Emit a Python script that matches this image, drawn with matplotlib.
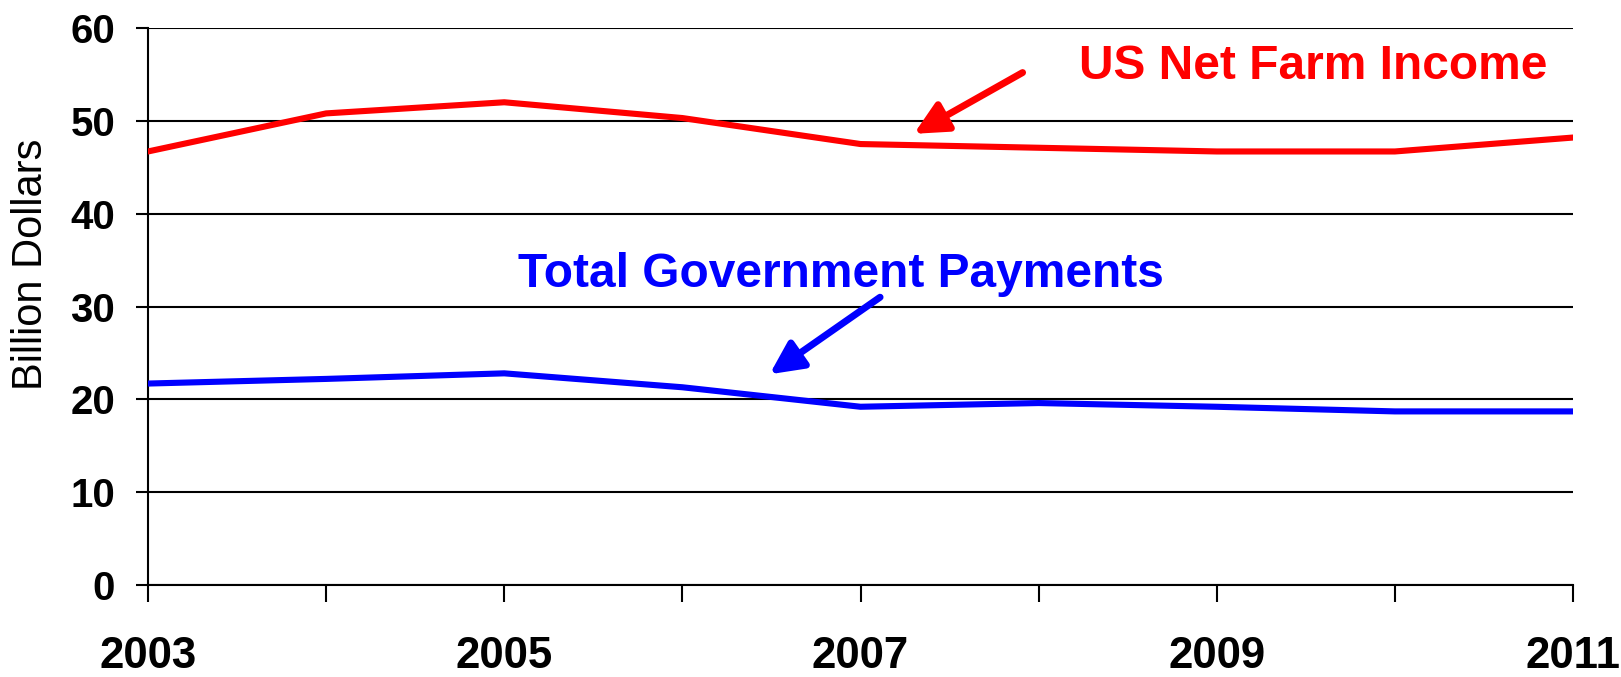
import matplotlib
matplotlib.use("Agg")
import matplotlib.pyplot as plt

years = [2003, 2004, 2005, 2006, 2007, 2008, 2009, 2010, 2011]
net_farm_income = [46.7, 50.8, 52.0, 50.3, 47.5, 47.1, 46.7, 46.7, 48.2]
govt_payments = [21.7, 22.2, 22.8, 21.3, 19.2, 19.6, 19.2, 18.7, 18.7]
y_ticks = [0, 10, 20, 30, 40, 50, 60]
x_label_years = [2003, 2005, 2007, 2009, 2011]

plt.rcParams['font.family'] = ['Liberation Sans', 'DejaVu Sans']

fig = plt.figure(figsize=(16.21, 6.77), dpi=100)
ax = fig.add_axes([148/1621, 1-585/677, (1573-148)/1621, (585-28)/677])

for y in y_ticks:
    ax.axhline(y, color='black', lw=1.5, zorder=1)

ax.plot(years, net_farm_income, color='#ff0000', lw=4.4, zorder=3, solid_capstyle='round')
ax.plot(years, govt_payments, color='#0000ff', lw=4.4, zorder=3, solid_capstyle='round')

ax.set_xlim(years[0], years[-1])
ax.set_ylim(0, 60)
ax.set_yticks(y_ticks)
ax.set_yticklabels([str(v) for v in y_ticks], fontsize=29, fontweight='bold')
ax.set_xticks(years)
ax.set_xticklabels([str(y) if y in x_label_years else '' for y in years],
                   fontsize=31.5, fontweight='bold')
ax.tick_params(axis='y', length=8.6, width=1.5, pad=15, direction='out')
ax.tick_params(axis='x', length=12, width=1.5, pad=25, direction='out')

for s in ['top', 'right']:
    ax.spines[s].set_visible(False)
ax.spines['left'].set_linewidth(1.5)
ax.spines['bottom'].set_linewidth(1.5)

fig.text(31/1621, 1-264/677, 'Billion Dollars', rotation=90, fontsize=30,
         ha='center', va='center')

ax.text(2009.54, 55.8, 'US Net Farm Income', color='#ff0000', fontsize=34.5,
        fontweight='bold', ha='center', va='center')
ax.annotate('', xy=(2007.30, 48.6), xytext=(2007.91, 55.2),
            arrowprops=dict(arrowstyle='-|>,head_length=0.55,head_width=0.27',
                            color='#ff0000', lw=5, mutation_scale=36,
                            shrinkA=0, shrinkB=0))

ax.text(2006.89, 33.5, 'Total Government Payments', color='#0000ff', fontsize=34.5,
        fontweight='bold', ha='center', va='center')
ax.annotate('', xy=(2006.49, 22.7), xytext=(2007.11, 31.0),
            arrowprops=dict(arrowstyle='-|>,head_length=0.55,head_width=0.27',
                            color='#0000ff', lw=5, mutation_scale=36,
                            shrinkA=0, shrinkB=0))

fig.savefig('out.png', dpi=100)
